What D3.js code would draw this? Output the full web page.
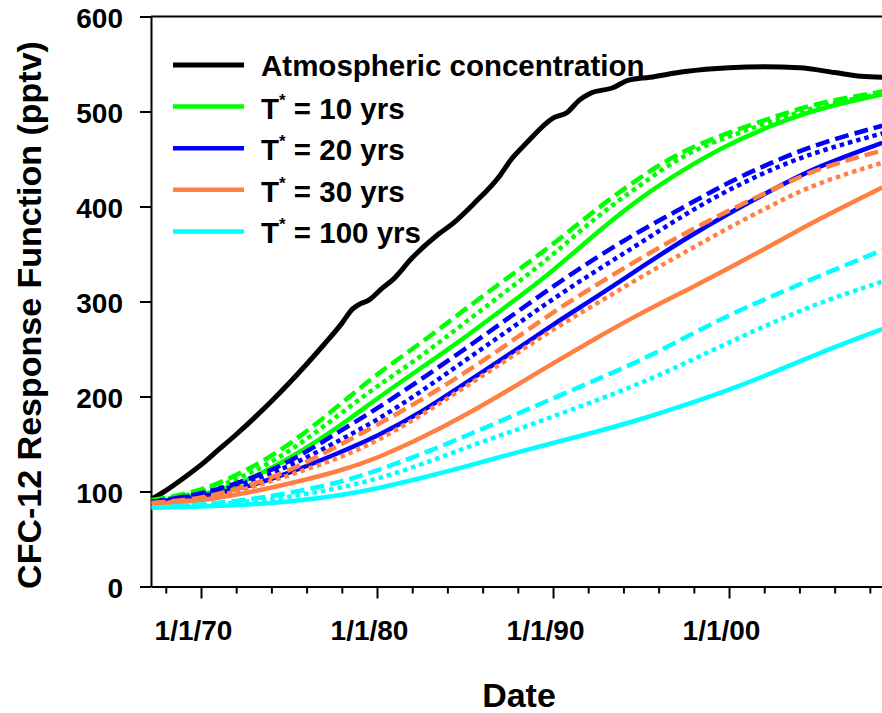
<!DOCTYPE html>
<html>
<head>
<meta charset="utf-8">
<script src="https://cdn.jsdelivr.net/npm/d3@7"></script>
<style>
body { margin: 0; background: #fff; }
text { font-family: "Liberation Sans", Arial, sans-serif; font-weight: bold; fill: #000; }
</style>
</head>
<body>
<svg id="chart" width="882" height="713"></svg>
<script>
const width = 882;
const height = 713;
const left = 151;
const right = 882;
const top_y = 16.5;
const bottom_y = 586.5;

// atmospheric record (decimal year, pptv)
const atmYears = [1967.2, 1968.0, 1969.0, 1970.0, 1971.0, 1972.0, 1973.0, 1974.0, 1975.0, 1976.0, 1977.0,
    1978.0, 1978.6, 1979.1, 1979.5, 1980.3, 1980.9, 1982.0, 1983.5, 1984.3, 1985.5, 1987.0, 1987.6, 1988.5,
    1990.0, 1990.8, 1991.5, 1992.1, 1993.4, 1994.3, 1995.5, 1997.5, 2000.0, 2002.0, 2004.0, 2006.0, 2007.5, 2008.7];
const atmValues = [92, 101, 114, 128, 144, 160, 177, 195, 214, 234, 255,
    277, 292, 298, 301, 314, 323, 346, 371, 382, 403, 433, 449, 467,
    493, 499, 512, 519, 525, 533, 536, 542, 546, 547, 546, 541, 537, 536];

// response functions, same years for all
const respYears = [1967.2, 1970, 1972.5, 1975, 1978, 1980, 1982.5, 1985, 1987.5, 1990, 1992.5, 1995, 1997.5, 2000, 2002.5, 2005, 2008.7];

const t10Solid  = [89, 95, 110, 134, 170, 198, 230, 262, 297, 332, 373, 410, 440, 466, 486, 503, 518];
const t10Dotted = [90, 98, 116, 141, 183, 211, 242, 278, 313, 349, 390, 423, 456, 474, 490, 506, 519];
const t10Dashed = [91, 100, 121, 148, 193, 224, 256, 292, 326, 360, 398, 432, 460, 478, 494, 509, 521];

const t20Solid  = [89, 94, 104, 119, 142, 158, 183, 214, 244, 276, 305, 336, 366, 393, 418, 442, 467];
const t20Dotted = [89, 96, 108, 126, 155, 175, 205, 238, 270, 303, 333, 362, 392, 418, 440, 458, 477];
const t20Dashed = [89, 97, 111, 130, 165, 187, 218, 250, 283, 316, 347, 375, 400, 426, 447, 466, 485];

const t30Solid  = [87, 90, 98, 108, 122, 135, 156, 180, 207, 235, 262, 288, 311, 335, 360, 386, 420];
const t30Dotted = [87, 91, 102, 117, 136, 153, 180, 210, 240, 271, 298, 326, 352, 378, 402, 425, 446];
const t30Dashed = [88, 92, 105, 121, 150, 170, 196, 225, 256, 289, 318, 346, 372, 396, 418, 440, 459];

const t100Solid  = [83, 84, 86, 89, 96, 103, 114, 126, 139, 151, 163, 176, 191, 207, 225, 245, 271];
const t100Dotted = [83, 85, 89, 94, 104, 113, 128, 146, 162, 179, 196, 214, 235, 257, 278, 298, 321];
const t100Dashed = [83, 86, 91, 98, 110, 122, 139, 158, 178, 198, 218, 238, 262, 286, 306, 326, 354];

const legendLabels = ["Atmospheric concentration", "10", "20", "30", "100"];
const seriesColors = ["#000000", "#00ff00", "#0000ff", "#ff8040", "#00ffff"];

const yTicks = [0, 100, 200, 300, 400, 500, 600];
const majorYears = [1970, 1980, 1990, 2000];

/* decimal year -> Date */
function yearToDate(yr) {
    var y0 = Math.floor(yr);
    var a = new Date(y0, 0, 1).getTime();
    var b = new Date(y0 + 1, 0, 1).getTime();
    return new Date(a + (yr - y0) * (b - a));
}

const svg = d3.select("#chart");

const x = d3.scaleTime()
    .domain([yearToDate(1967.16), yearToDate(2008.69)])
    .range([left, right]);
const y = d3.scaleLinear()
    .domain([0, 600])
    .range([bottom_y, top_y]);

// x axis: minor ticks every 2 years, longer ones at decades
var minorYears = d3.range(1968, 2009, 2).filter(v => v % 10 !== 0);
var minorAxis = svg.append("g")
    .attr("transform", "translate(0," + bottom_y + ")")
    .call(d3.axisBottom(x).tickValues(minorYears.map(yearToDate)).tickSize(7).tickSizeOuter(0).tickFormat(""));
minorAxis.select(".domain").remove();

var majorAxis = svg.append("g")
    .attr("transform", "translate(0," + bottom_y + ")")
    .call(d3.axisBottom(x)
        .tickValues(majorYears.map(yearToDate))
        .tickSize(12)
        .tickSizeOuter(0)
        .tickFormat(d => "1/1/" + String(d.getFullYear()).slice(2)));
majorAxis.selectAll("text")
    .attr("y", 53.5)
    .attr("dy", null)
    .attr("dx", -8)
    .style("font-size", "28px");

var yAxis = svg.append("g")
    .attr("transform", "translate(" + left + ",0)")
    .call(d3.axisLeft(y).tickValues(yTicks).tickSize(11).tickSizeOuter(0).tickPadding(17));
yAxis.selectAll("text")
    .attr("dy", "0.4em")
    .style("font-size", "28px");

svg.selectAll(".domain, .tick line")
    .attr("stroke", "#000")
    .attr("stroke-width", 2);
svg.selectAll(".tick text").attr("fill", "#000");

// top frame
svg.append("line")
    .attr("x1", left).attr("x2", right)
    .attr("y1", top_y).attr("y2", top_y)
    .attr("stroke", "#000")
    .attr("stroke-width", 2);

// axis titles
svg.append("text")
    .attr("x", 519)
    .attr("y", 707)
    .attr("text-anchor", "middle")
    .style("font-size", "34px")
    .text("Date");

svg.append("text")
    .attr("transform", "translate(41,315) rotate(-90)")
    .attr("text-anchor", "middle")
    .style("font-size", "34px")
    .text("CFC-12 Response Function (pptv)");

// curves
svg.append("clipPath").attr("id", "plot-clip")
    .append("rect")
    .attr("x", left).attr("y", 0)
    .attr("width", right - left).attr("height", bottom_y);

var atmLine = d3.line()
    .x(d => x(yearToDate(d[0])))
    .y(d => y(d[1]))
    .curve(d3.curveMonotoneX);
var respLine = d3.line()
    .x(d => x(yearToDate(d[0])))
    .y(d => y(d[1]))
    .curve(d3.curveBasis);

var dashStyles = { solid: null, dashed: "14,6", dotted: "4.5,4" };

var curves = [
    [atmValues, atmYears, 0, "solid", 5],
    [t10Dashed, respYears, 1, "dashed", 4.5],
    [t10Dotted, respYears, 1, "dotted", 4.5],
    [t10Solid, respYears, 1, "solid", 4.5],
    [t20Dashed, respYears, 2, "dashed", 4.5],
    [t20Dotted, respYears, 2, "dotted", 4.5],
    [t20Solid, respYears, 2, "solid", 4.5],
    [t30Dashed, respYears, 3, "dashed", 4.5],
    [t30Dotted, respYears, 3, "dotted", 4.5],
    [t30Solid, respYears, 3, "solid", 4.5],
    [t100Dashed, respYears, 4, "dashed", 4.5],
    [t100Dotted, respYears, 4, "dotted", 4.5],
    [t100Solid, respYears, 4, "solid", 4.5]
];

svg.append("g")
    .attr("clip-path", "url(#plot-clip)")
    .selectAll("path")
    .data(curves)
    .enter()
    .append("path")
    .attr("d", d => {
        var pts = d[1].map((yr, i) => [yr, d[0][i]]);
        return d[2] === 0 ? atmLine(pts) : respLine(pts);
    })
    .attr("fill", "none")
    .attr("stroke", d => seriesColors[d[2]])
    .attr("stroke-width", d => d[4])
    .attr("stroke-dasharray", d => dashStyles[d[3]]);

// legend
var legend = svg.append("g");
var rows = legend.selectAll("g")
    .data(legendLabels)
    .enter()
    .append("g")
    .attr("transform", (d, i) => "translate(0," + (65 + i * 41.6) + ")");

rows.append("line")
    .attr("x1", 173).attr("x2", 244)
    .attr("y1", 0).attr("y2", 0)
    .attr("stroke", (d, i) => seriesColors[i])
    .attr("stroke-width", (d, i) => i === 0 ? 5 : 4.5);

rows.append("text")
    .attr("x", 261)
    .attr("y", (d, i) => i === 0 ? 11 : 12)
    .style("font-size", "29.5px")
    .each(function(d, i) {
        var t = d3.select(this);
        if (i === 0) {
            t.text(d);
        } else {
            t.append("tspan").text("T");
            t.append("tspan").attr("dy", -13).style("font-size", "17px").text("*");
            t.append("tspan").attr("dy", 13).text(" = " + d + " yrs");
        }
    });
</script>
</body>
</html>
